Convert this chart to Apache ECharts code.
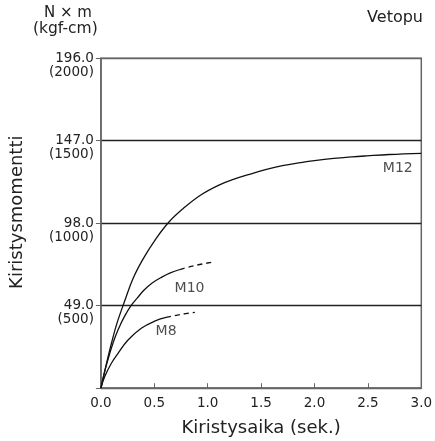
<!DOCTYPE html>
<html><head><meta charset="utf-8">
<script src="https://cdn.jsdelivr.net/npm/echarts@6/dist/echarts.min.js"></script>
<style>html,body{margin:0;padding:0;background:#fff}#c{width:435px;height:441px}</style>
</head><body><div id="c"></div>
<script>
// Data (time in s, torque in N·m)
const m12Solid = [[0,0],[0.05,14],[0.1,27],[0.15,38.5],[0.226,52.4],[0.303,65.5],[0.397,77],[0.507,88],[0.631,98.3],[0.772,106.8],[0.928,114.5],[1.1,120.5],[1.24,124],[1.4,127.2],[1.55,130],[1.7,132.2],[1.87,134],[2.0,135.2],[2.18,136.5],[2.35,137.4],[2.49,138],[2.7,138.8],[3.0,139.5]];
const m10Solid = [[0,0],[0.04,11],[0.08,20],[0.12,28],[0.163,35],[0.22,42.5],[0.282,49],[0.34,53.5],[0.4,58],[0.48,62.5],[0.57,66],[0.65,68.5],[0.74,70.5]];
const m10Dash  = [[0.74,70.5],[0.89,73],[1.04,74.8]];
const m8Solid  = [[0,0],[0.035,6.8],[0.098,14.8],[0.16,20.7],[0.254,28.6],[0.378,35.6],[0.503,39.8],[0.61,42]];
const m8Dash   = [[0.61,42],[0.75,43.8],[0.88,45]];
const curveLabels = [['M12',2.78,130.8],['M10',0.83,59.3],['M8',0.61,33.5]];
const yTickNm  = {49:'49.0',98:'98.0',147:'147.0',196:'196.0'};
const yTickKgf = {49:'(500)',98:'(1000)',147:'(1500)',196:'(2000)'};
const xTitle = 'Kiristysaika (sek.)';
const yTitle = 'Kiristysmomentti';

const FF = 'DejaVu Sans';
const line = (data, dashed) => ({
  type:'line', data, smooth:0.4, symbol:'none', silent:true,
  lineStyle:{color:'#111', width:1.3, type: dashed ? [5,4] : 'solid'}
});
const chart = echarts.init(document.getElementById('c'), null, {renderer:'canvas'});
chart.setOption({
  animation:false,
  backgroundColor:'#fff',
  grid:{left:100.9, right:13.7, top:58.2, bottom:52.8, containLabel:false, outerBoundsMode:'none',
        show:true, borderColor:'#666', borderWidth:1.5, backgroundColor:'transparent'},
  xAxis:{type:'value', min:0, max:3, interval:0.5,
    axisLine:{show:true, lineStyle:{color:'#666', width:1.5}},
    axisTick:{show:true, inside:true, length:5, lineStyle:{color:'#666'}},
    axisLabel:{color:'#222', fontFamily:FF, fontSize:13.5, margin:8, formatter:v=>v.toFixed(1)},
    splitLine:{show:false},
    name:xTitle, nameLocation:'middle', nameGap:31, nameMoveOverlap:false,
    nameTextStyle:{color:'#222', fontFamily:FF, fontSize:18}
  },
  yAxis:{type:'value', min:0, max:196, interval:49,
    axisLine:{show:true, lineStyle:{color:'#666', width:1.5}},
    axisTick:{show:true, length:5, lineStyle:{color:'#666'}},
    axisLabel:{color:'#222', fontFamily:FF, fontSize:13.5, margin:7, lineHeight:14,
      formatter:v=> yTickNm[v] ? ' \n'+yTickNm[v]+'\n'+yTickKgf[v] : ''},
    splitLine:{show:true, lineStyle:{color:['#666','#222','#222','#222','#666'], width:1.3}},
    name:yTitle, nameLocation:'middle', nameGap:75, nameMoveOverlap:false,
    nameTextStyle:{color:'#222', fontFamily:FF, fontSize:18, padding:[0,0,0,22]}
  },
  graphic:[
    {type:'text', style:{text:'N × m', fill:'#222', font:'15px "DejaVu Sans"'}, left:44, top:6},
    {type:'text', style:{text:'(kgf-cm)', fill:'#222', font:'15.5px "DejaVu Sans"'}, left:33, top:21},
    {type:'text', style:{text:'Vetopu', fill:'#222', font:'16px "DejaVu Sans"'}, right:12, top:10}
  ],
  series:[
    line(m12Solid,false), line(m10Solid,false), line(m10Dash,true), line(m8Solid,false), line(m8Dash,true),
    {type:'scatter', symbolSize:0, silent:true, data:curveLabels.map(d=>({name:d[0], value:[d[1],d[2]]})),
     label:{show:true, position:'inside', formatter:p=>p.name, color:'#222', fontFamily:FF, fontSize:14}}
  ]
});
</script></body></html>
